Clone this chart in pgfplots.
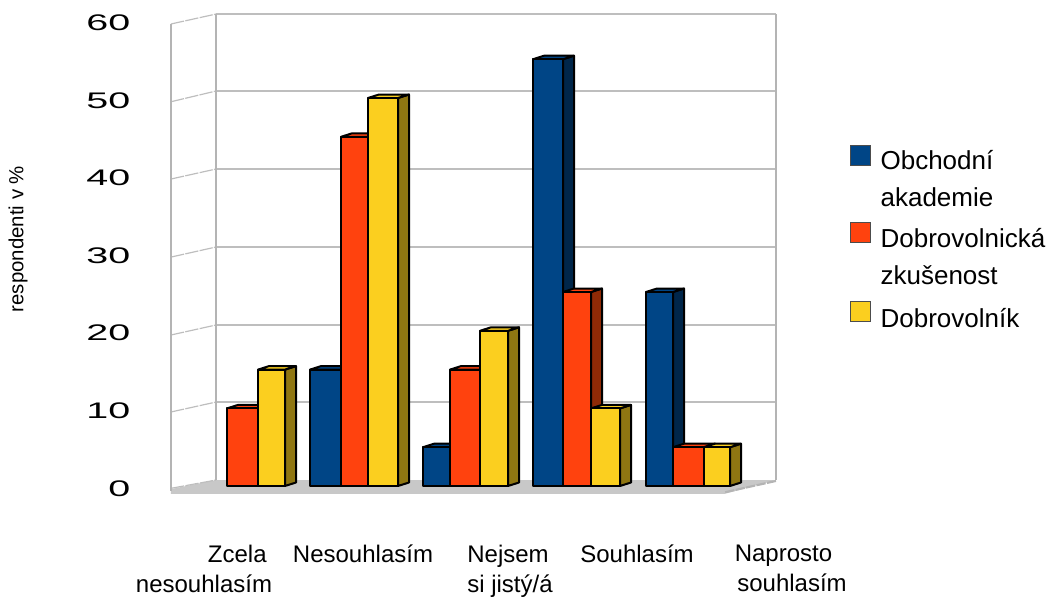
\documentclass[border=0pt]{standalone}
\usepackage{pgfplots}
\pgfplotsset{compat=1.18}
\usepackage{fontspec}
\setmainfont{Liberation Sans}
\definecolor{cb}{HTML}{004586}\definecolor{cbd}{HTML}{00264A}
\definecolor{cr}{HTML}{FF420E}\definecolor{crd}{HTML}{8F2A06}
\definecolor{cy}{HTML}{FBCF1F}\definecolor{cyd}{HTML}{8F7612}
\definecolor{gl}{HTML}{BEBEBE}\definecolor{gw}{HTML}{B4B4B4}\definecolor{fl}{HTML}{C8C8C8}
% one 3D bar: left x, right x, value, front colour, dark colour
\newcommand\dbar[5]{%
 \pgfmathsetmacro\xb{#2+11}\pgfmathsetmacro\xa{#1+11}\pgfmathsetmacro\vb{#3+0.45}%
 \addplot[forget plot,draw=black,line width=1.5pt,line join=round,fill=#5] coordinates {(#2,0)(#2,#3)(\xb,\vb)(\xb,0.45)} --cycle;
 \addplot[forget plot,draw=black,line width=1.5pt,line join=round,fill=#4] coordinates {(#1,#3)(\xa,\vb)(\xb,\vb)(#2,#3)} --cycle;
 \addplot[forget plot,draw=black,line width=1.6pt,line join=round,fill=#4] coordinates {(#1,0)(#1,#3)(#2,#3)(#2,0)} --cycle;
}
\newcommand\gridl[2]{%
  \draw[gl,line width=1pt] (axis cs:216,#1) -- (axis cs:776,#1);
  \draw[gl,line width=0.9pt,dash pattern=on 10pt off 1pt] (axis cs:171,#2) -- (axis cs:216,#1);
}
\newcommand\ls{\rule{5.25pt}{0pt}}
\pgfplotsset{keyimg/.style 2 args={legend image code/.code={\draw[draw=black!70,line width=0.7pt,fill=#1] (0pt,#2) rectangle (15pt,#2+15pt);}}}
\begin{document}
\begin{tikzpicture}[x=1pt,y=1pt]
\useasboundingbox (-128.25pt,-82.5pt) rectangle (657.75pt,364.5pt);
\begin{axis}[
  at={(0pt,0pt)},anchor=origin,
  scale only axis,width=528.75pt,height=349.2pt,
  xmin=171,xmax=876,ymin=0,ymax=60,clip=false,
  axis x line=bottom,axis y line=left,
  axis line style={draw=none},major tick length=0pt,tick style={draw=none},
  /pgf/number format/assume math mode=true,
  ytick={0,10,20,30,40,50,60},
  yticklabel={\scalebox{1.75}[1]{\pgfmathprintnumber{\tick}}},
  yticklabel style={font=\fontsize{16.9pt}{18pt}\selectfont,xshift=-27pt,yshift=-1.8pt},
  xtick={204,363,510,637,792},
  xticklabels={{\rule{50pt}{0pt}Zcela\\nesouhlasím},{Nesouhlasím},{Nejsem\rule{3pt}{0pt}\\si jistý/á},{Souhlasím},{Naprosto\rule{12.75pt}{0pt}\\souhlasím}},
  xticklabel style={font=\fontsize{18pt}{22.5pt}\selectfont,align=center,anchor=north,yshift=-40.5pt},
  ylabel={respondenti v \%},
  every axis y label/.style={at={(rel axis cs:-0.2170,0.5305)},anchor=center,rotate=90,font=\fontsize{15.3pt}{18pt}\selectfont},
  legend style={draw=none,fill=none,at={(rel axis cs:0.9631,0.7327)},anchor=north west,
    font=\fontsize{19.5pt}{27.8pt}\selectfont,cells={align=left,anchor=west},row sep=8.5pt,inner sep=0pt,outer sep=0pt},
  legend cell align=left,
]
% floor
\fill[fl] (axis cs:171,-0.4) -- (axis cs:216,0.77) -- (axis cs:776,0.77) -- (axis cs:725,-1) -- (axis cs:171,-1) -- cycle;
\draw[gw,line width=1.6pt,dash pattern=on 7pt off 1pt] (axis cs:776,0.65) -- (axis cs:725,-0.8);
% back wall grid
\gridl{60.82}{59.54}
\gridl{50.90}{49.52}
\gridl{40.85}{39.56}
\gridl{30.80}{29.50}
\gridl{20.75}{19.46}
\gridl{10.82}{9.54}
\draw[gl,line width=0.9pt,dash pattern=on 10pt off 1pt] (axis cs:171,-0.3) -- (axis cs:216,0.77);
\draw[gw,line width=1.5pt] (axis cs:216,0.77) -- (axis cs:216,60.82);
\draw[gw,line width=1.5pt] (axis cs:776,0.77) -- (axis cs:776,60.82);
\draw[gw,line width=2pt] (axis cs:171,-0.6) -- (axis cs:171,59.54);
% bars
\dbar{227}{258}{10}{cr}{crd}
\dbar{258}{285}{15}{cy}{cyd}
\dbar{310}{341}{15}{cb}{cbd}
\dbar{341}{368}{45}{cr}{crd}
\dbar{368}{398}{50}{cy}{cyd}
\dbar{423}{450}{5}{cb}{cbd}
\dbar{450}{480}{15}{cr}{crd}
\dbar{480}{508}{20}{cy}{cyd}
\dbar{533}{563}{55}{cb}{cbd}
\dbar{563}{591}{25}{cr}{crd}
\dbar{591}{620}{10}{cy}{cyd}
\dbar{646}{673}{25}{cb}{cbd}
\dbar{673}{704}{5}{cr}{crd}
\dbar{704}{730}{5}{cy}{cyd}
\addlegendimage{keyimg={cb}{10.5pt}}
\addlegendentry{\ls Obchodní\\\ls akademie}
\addlegendimage{keyimg={cr}{11pt}}
\addlegendentry{\ls Dobrovolnická\\\ls zkušenost}
\addlegendimage{keyimg={cy}{-1.5pt}}
\addlegendentry{\ls Dobrovolník}
\end{axis}
\end{tikzpicture}
\end{document}
